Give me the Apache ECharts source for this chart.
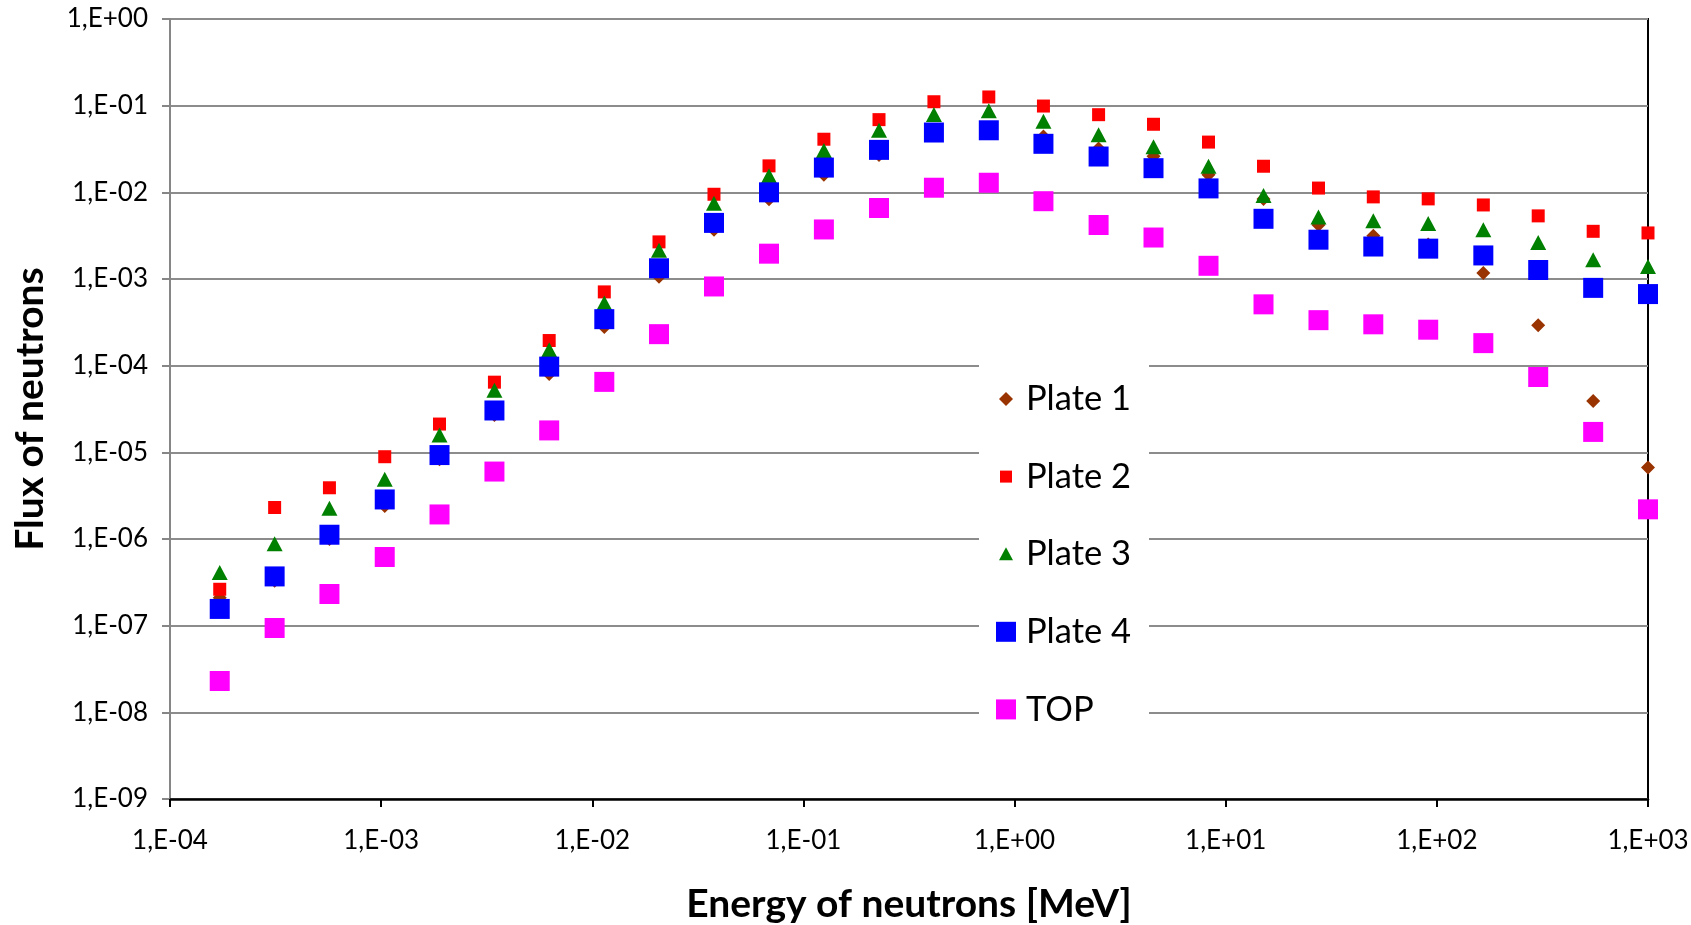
<!DOCTYPE html>
<html>
<head>
<meta charset="utf-8">
<script src="https://cdn.jsdelivr.net/npm/echarts@6/dist/echarts.min.js"></script>
<style>
html,body{margin:0;padding:0;background:#fff;}
#chart{width:1691px;height:925px;}
</style>
</head>
<body>
<div id="chart"></div>
<script>
// Energy of neutrons [MeV] (x positions of the points)
const energies = [1.72e-4, 3.13e-4, 5.69e-4, 1.04e-3, 1.89e-3, 3.44e-3, 6.25e-3, 1.14e-2, 2.07e-2, 3.77e-2, 6.87e-2, 0.125, 0.228, 0.415, 0.755, 1.37, 2.50, 4.55, 8.29, 15.1, 27.5, 50.0, 91.0, 166, 302, 550, 1000];

const plate1 = [2.1e-7, 3.3e-7, 1.0e-6, 2.4e-6, 8.3e-6, 2.7e-5, 8.0e-5, 2.8e-4, 1.06e-3, 3.7e-3, 8.3e-3, 1.6e-2, 2.7e-2, 4.6e-2, 5.3e-2, 4.4e-2, 3.2e-2, 2.6e-2, 1.6e-2, 8.4e-3, 4.2e-3, 3.15e-3, 2.5e-3, 1.17e-3, 2.93e-4, 3.9e-5, 6.7e-6];
const plate2 = [2.63e-7, 2.31e-6, 3.9e-6, 8.9e-6, 2.12e-5, 6.45e-5, 1.95e-4, 7.1e-4, 2.68e-3, 9.5e-3, 2.02e-2, 4.1e-2, 6.9e-2, 0.111, 0.126, 0.099, 0.0787, 0.061, 0.038, 0.020, 1.12e-2, 8.86e-3, 8.4e-3, 7.15e-3, 5.35e-3, 3.55e-3, 3.4e-3];
const plate3 = [4.1e-7, 8.8e-7, 2.27e-6, 4.9e-6, 1.59e-5, 5.2e-5, 1.53e-4, 5.3e-4, 2.14e-3, 7.5e-3, 1.55e-2, 3.04e-2, 5.2e-2, 0.079, 0.0875, 0.0659, 0.0462, 0.0335, 0.020, 9.2e-3, 5.2e-3, 4.7e-3, 4.38e-3, 3.69e-3, 2.64e-3, 1.67e-3, 1.39e-3];
const plate4 = [1.56e-7, 3.7e-7, 1.12e-6, 2.86e-6, 9.3e-6, 3.04e-5, 9.75e-5, 3.44e-4, 1.33e-3, 4.44e-3, 1.0e-2, 1.93e-2, 3.09e-2, 4.9e-2, 5.2e-2, 3.63e-2, 2.59e-2, 1.9e-2, 1.11e-2, 4.95e-3, 2.84e-3, 2.37e-3, 2.24e-3, 1.87e-3, 1.27e-3, 7.9e-4, 6.7e-4];
const topPlate = [2.3e-8, 9.4e-8, 2.32e-7, 6.2e-7, 1.92e-6, 6.0e-6, 1.79e-5, 6.5e-5, 2.31e-4, 8.2e-4, 1.96e-3, 3.73e-3, 6.6e-3, 1.13e-2, 1.29e-2, 7.9e-3, 4.2e-3, 3.01e-3, 1.42e-3, 5.1e-4, 3.35e-4, 3.0e-4, 2.6e-4, 1.82e-4, 7.4e-5, 1.72e-5, 2.2e-6];

const seriesNames = ['Plate 1', 'Plate 2', 'Plate 3', 'Plate 4', 'TOP'];
const xTitle = 'Energy of neutrons [MeV]';
const yTitle = 'Flux of neutrons';

function sci(v) {
  const e = Math.round(Math.log10(v));
  const a = Math.abs(e);
  return '1,E' + (e < 0 ? '-' : '+') + (a < 10 ? '0' : '') + a;
}
function pairs(ys) { return energies.map((x, i) => [x, ys[i]]); }

const FONT = 'Lato';
const chart = echarts.init(document.getElementById('chart'), null, {renderer: 'canvas'});

const styles = [
  {data: plate1, color: '#993300', symbol: 'diamond', size: 14,
   icon: 'path://M0,0M20,20M10,3L17,10L10,17L3,10Z'},
  {data: plate2, color: '#FF0000', symbol: 'rect', size: 13,
   icon: 'path://M0,0M20,20M4,4L16,4L16,16L4,16Z'},
  {data: plate3, color: '#008000', symbol: 'triangle', size: [16, 15],
   icon: 'path://M0,0M20,20M10,3L17,16L3,16Z'},
  {data: plate4, color: '#0000FF', symbol: 'rect', size: 20, icon: 'rect'},
  {data: topPlate, color: '#FF00FF', symbol: 'rect', size: 20, icon: 'rect'}
];

const option = {
  backgroundColor: '#ffffff',
  animation: false,
  textStyle: {fontFamily: FONT},
  grid: {
    left: 170, right: 43, top: 19, bottom: 126,
    containLabel: false,
    outerBoundsMode: 'none',
    show: true, borderColor: '#000000', borderWidth: 2, backgroundColor: 'transparent'
  },
  legend: {
    orient: 'vertical',
    left: 979, top: 361,
    padding: [18, 18, 16, 17],
    backgroundColor: '#ffffff',
    itemWidth: 20, itemHeight: 20,
    itemGap: 37.6,
    data: seriesNames.map((n, i) => ({name: n, icon: styles[i].icon})),
    textStyle: {fontFamily: FONT, fontSize: 34.5, color: '#000', lineHeight: 40, padding: [0, 0, 0, 5]}
  },
  xAxis: {
    type: 'log', logBase: 10, min: 1e-4, max: 1e3,
    name: xTitle, nameLocation: 'middle', nameGap: 86,
    nameTextStyle: {fontFamily: FONT, fontSize: 39, fontWeight: 'bold', color: '#000'},
    axisLine: {show: true, onZero: false, lineStyle: {color: '#000', width: 2.5}},
    axisTick: {show: true, inside: false, length: 8, lineStyle: {color: '#000', width: 2}},
    axisLabel: {fontFamily: FONT, fontSize: 26, color: '#000', margin: 29, lineHeight: 26,
      formatter: sci, showMinLabel: true, showMaxLabel: true},
    splitLine: {show: false},
    minorTick: {show: false}
  },
  yAxis: {
    type: 'log', logBase: 10, min: 1e-9, max: 1,
    name: yTitle, nameLocation: 'middle', nameGap: 120, nameRotate: 90,
    nameTextStyle: {fontFamily: FONT, fontSize: 39, fontWeight: 'bold', color: '#000'},
    axisLine: {show: true, onZero: false, lineStyle: {color: '#868686', width: 2}},
    axisTick: {show: true, inside: false, length: 8, lineStyle: {color: '#868686', width: 2}},
    axisLabel: {fontFamily: FONT, fontSize: 26, color: '#000', margin: 22,
      formatter: sci, showMinLabel: true, showMaxLabel: true},
    splitLine: {show: true, lineStyle: {color: '#8c8c8c', width: 2}}
  },
  series: styles.map((s, i) => ({
    name: seriesNames[i],
    type: 'scatter',
    clip: false,
    symbol: s.symbol,
    symbolSize: s.size,
    itemStyle: {color: s.color, opacity: 1},
    emphasis: {disabled: true},
    data: pairs(s.data),
    z: 2 + i
  }))
};
chart.setOption(option);
</script>
</body>
</html>
